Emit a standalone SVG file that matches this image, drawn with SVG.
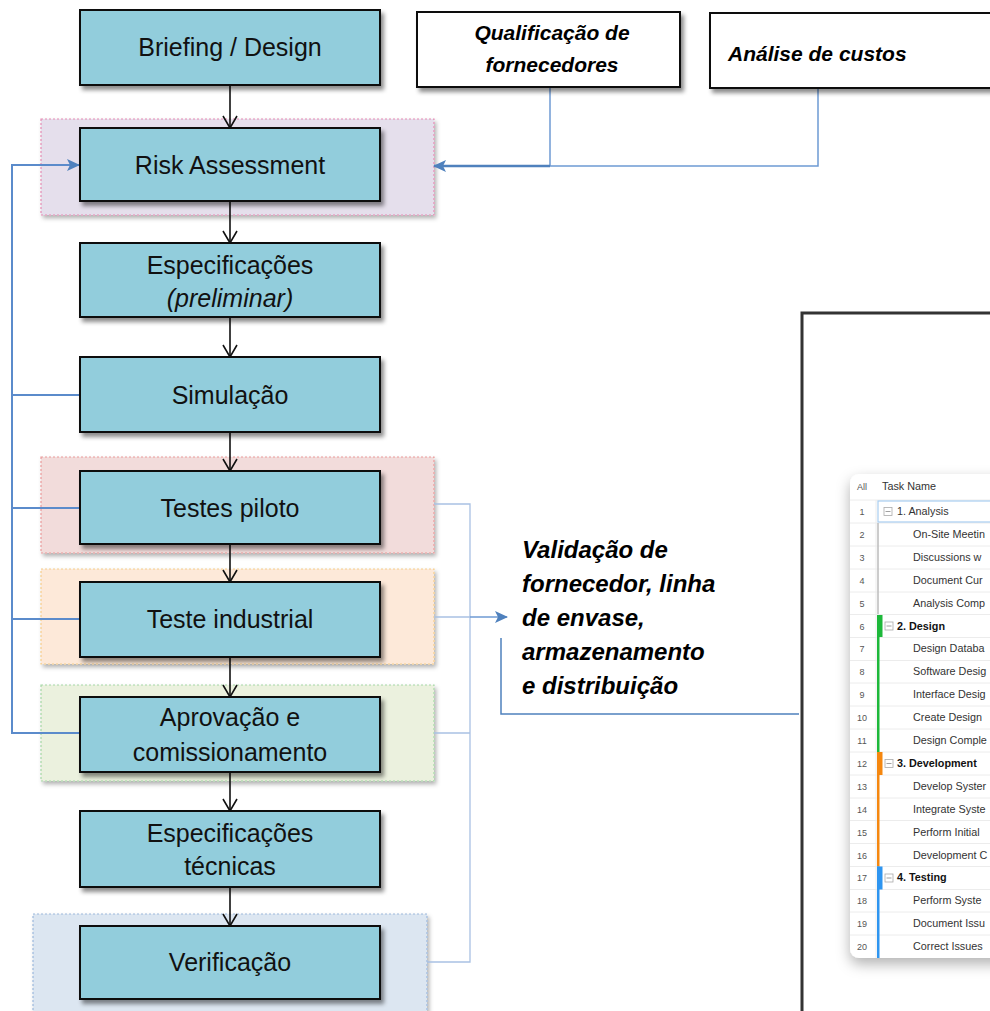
<svg xmlns="http://www.w3.org/2000/svg" width="990" height="1011" viewBox="0 0 990 1011">
<defs>
<filter id="sh" x="-10%" y="-10%" width="130%" height="140%"><feDropShadow dx="3" dy="4" stdDeviation="2" flood-color="#000" flood-opacity="0.45"/></filter>
<filter id="shs" x="-10%" y="-10%" width="130%" height="140%"><feDropShadow dx="2" dy="3" stdDeviation="2" flood-color="#000" flood-opacity="0.3"/></filter>
<filter id="shc" x="-30%" y="-10%" width="160%" height="130%"><feDropShadow dx="0" dy="6" stdDeviation="7" flood-color="#000" flood-opacity="0.3"/></filter>
<marker id="vopen" markerWidth="16" markerHeight="14" refX="8" refY="13" orient="0" markerUnits="userSpaceOnUse" viewBox="0 0 16 14"><path d="M1,1 L8,13 L15,1" fill="none" stroke="#111" stroke-width="1.6"/></marker>
<marker id="blue" markerWidth="14" markerHeight="14" refX="12" refY="7" orient="auto" markerUnits="userSpaceOnUse" viewBox="0 0 14 14"><path d="M0,1 L13,7 L0,13 L3,7 Z" fill="#4F81BD"/></marker>
</defs>
<style>
.grp{stroke-width:1.2;stroke-dasharray:2 2}
.box{fill:#92CDDC;stroke:#111;stroke-width:2}
.t{font-family:"Liberation Sans",Arial,sans-serif;font-size:25px;fill:#111;text-anchor:middle}
.lbl{font-family:"Liberation Sans",Arial,sans-serif;font-size:21px;font-weight:bold;font-style:italic;fill:#000}
.val{font-size:24px}
.wbox{fill:#fff;stroke:#111;stroke-width:2}
.flow{stroke:#111;stroke-width:1.6;fill:none}
.fb{stroke:#5B8BCB;stroke-width:2;fill:none}
.lt{stroke:#A9C1E3;stroke-width:1.3;fill:none}
.g{font-family:"Liberation Sans",Arial,sans-serif;font-size:10.8px;fill:#333}
.gb{font-weight:bold;fill:#111}
.gn{font-family:"Liberation Sans",Arial,sans-serif;font-size:9px;fill:#555;text-anchor:middle}
.rl{stroke:#ececec;stroke-width:1}
.mb{fill:#fff;stroke:#aaa;stroke-width:0.8}
.mm{stroke:#888;stroke-width:0.8}
</style>

<!-- group backgrounds -->
<rect x="41" y="119" width="393" height="96" class="grp" fill="#E5DFEC" stroke="#E58CB4" filter="url(#shs)"/>
<rect x="41" y="457" width="393" height="96" class="grp" fill="#F2DCDB" stroke="#E99A9A" filter="url(#shs)"/>
<rect x="41" y="569" width="393" height="95" class="grp" fill="#FDE9D9" stroke="#F5CE8C" filter="url(#shs)"/>
<rect x="41" y="685" width="393" height="96" class="grp" fill="#EBF1DE" stroke="#A6D8A6" filter="url(#shs)"/>
<rect x="33" y="914" width="394" height="110" class="grp" fill="#DCE6F1" stroke="#9CB8DC" filter="url(#shs)"/>

<!-- big screenshot frame -->
<g id="screenshot">
<rect x="802" y="313" width="200" height="710" fill="#fff" stroke="#333" stroke-width="3"/>
<rect x="850" y="474" width="170" height="484" rx="9" fill="#fff" filter="url(#shc)"/>
<text x="862" y="490" class="gn">All</text>
<text x="882" y="490" class="g" font-size="9.5px">Task Name</text>
<line x1="850" y1="500" x2="1000" y2="500" class="rl"/>
<line x1="876" y1="500" x2="876" y2="958" class="rl"/>
<g id="rows">
<line x1="850" y1="523" x2="1000" y2="523" class="rl"/><line x1="850" y1="546" x2="1000" y2="546" class="rl"/>
<line x1="850" y1="569" x2="1000" y2="569" class="rl"/><line x1="850" y1="592" x2="1000" y2="592" class="rl"/>
<line x1="850" y1="614.5" x2="1000" y2="614.5" class="rl"/><line x1="850" y1="637.5" x2="1000" y2="637.5" class="rl"/>
<line x1="850" y1="660.5" x2="1000" y2="660.5" class="rl"/><line x1="850" y1="683" x2="1000" y2="683" class="rl"/>
<line x1="850" y1="706" x2="1000" y2="706" class="rl"/><line x1="850" y1="729" x2="1000" y2="729" class="rl"/>
<line x1="850" y1="752" x2="1000" y2="752" class="rl"/><line x1="850" y1="775" x2="1000" y2="775" class="rl"/>
<line x1="850" y1="798" x2="1000" y2="798" class="rl"/><line x1="850" y1="820.5" x2="1000" y2="820.5" class="rl"/>
<line x1="850" y1="843.5" x2="1000" y2="843.5" class="rl"/><line x1="850" y1="866.5" x2="1000" y2="866.5" class="rl"/>
<line x1="850" y1="889.5" x2="1000" y2="889.5" class="rl"/><line x1="850" y1="912" x2="1000" y2="912" class="rl"/>
<line x1="850" y1="935" x2="1000" y2="935" class="rl"/>
</g>
<rect x="878" y="501" width="130" height="21" fill="none" stroke="#A8CDF0" stroke-width="1.2"/>
<line x1="878" y1="523" x2="878" y2="614" stroke="#bbb" stroke-width="1.5"/>
<rect x="877" y="615" width="5.5" height="22" fill="#1DB83A"/><rect x="877" y="615" width="2.5" height="137" fill="#1DB83A"/>
<rect x="877" y="752" width="5.5" height="23" fill="#F5870F"/><rect x="877" y="752" width="2.5" height="114.5" fill="#F5870F"/>
<rect x="877" y="866.5" width="5.5" height="23" fill="#2E95F0"/><rect x="877" y="866.5" width="2.5" height="91.5" fill="#2E95F0"/>
<rect x="884" y="507.5" width="8" height="8" class="mb"/><line x1="885.5" y1="511.5" x2="890.5" y2="511.5" class="mm"/>
<rect x="885" y="622" width="8" height="8" class="mb"/><line x1="886.5" y1="626" x2="891.5" y2="626" class="mm"/>
<rect x="885" y="759.5" width="8" height="8" class="mb"/><line x1="886.5" y1="763.5" x2="891.5" y2="763.5" class="mm"/>
<rect x="885" y="874" width="8" height="8" class="mb"/><line x1="886.5" y1="878" x2="891.5" y2="878" class="mm"/>
<g id="nums">
<text x="862" y="515" class="gn">1</text><text x="862" y="538" class="gn">2</text><text x="862" y="561" class="gn">3</text>
<text x="862" y="584" class="gn">4</text><text x="862" y="606.5" class="gn">5</text><text x="862" y="629.5" class="gn">6</text>
<text x="862" y="652" class="gn">7</text><text x="862" y="675" class="gn">8</text><text x="862" y="698" class="gn">9</text>
<text x="862" y="721" class="gn">10</text><text x="862" y="744" class="gn">11</text><text x="862" y="767" class="gn">12</text>
<text x="862" y="790" class="gn">13</text><text x="862" y="813" class="gn">14</text><text x="862" y="835.5" class="gn">15</text>
<text x="862" y="858.5" class="gn">16</text><text x="862" y="881" class="gn">17</text><text x="862" y="904" class="gn">18</text>
<text x="862" y="927" class="gn">19</text><text x="862" y="950" class="gn">20</text>
</g>
<g id="tasks">
<text x="897" y="515" class="g">1. Analysis</text>
<text x="913" y="538" class="g">On-Site Meetin</text>
<text x="913" y="561" class="g">Discussions w</text>
<text x="913" y="584" class="g">Document Cur</text>
<text x="913" y="606.5" class="g">Analysis Comp</text>
<text x="897" y="629.5" class="g gb">2. Design</text>
<text x="913" y="652" class="g">Design Databa</text>
<text x="913" y="675" class="g">Software Desig</text>
<text x="913" y="698" class="g">Interface Desig</text>
<text x="913" y="721" class="g">Create Design</text>
<text x="913" y="744" class="g">Design Comple</text>
<text x="897" y="767" class="g gb">3. Development</text>
<text x="913" y="790" class="g">Develop Syster</text>
<text x="913" y="813" class="g">Integrate Syste</text>
<text x="913" y="835.5" class="g">Perform Initial</text>
<text x="913" y="858.5" class="g">Development C</text>
<text x="897" y="881" class="g gb">4. Testing</text>
<text x="913" y="904" class="g">Perform Syste</text>
<text x="913" y="927" class="g">Document Issu</text>
<text x="913" y="950" class="g">Correct Issues</text>
</g>
</g>

<!-- connectors -->
<g id="connectors">
<line x1="230" y1="85" x2="230" y2="128" class="flow" marker-end="url(#vopen)"/>
<line x1="230" y1="201" x2="230" y2="243" class="flow" marker-end="url(#vopen)"/>
<line x1="230" y1="317" x2="230" y2="357" class="flow" marker-end="url(#vopen)"/>
<line x1="230" y1="432" x2="230" y2="471" class="flow" marker-end="url(#vopen)"/>
<line x1="230" y1="544" x2="230" y2="582" class="flow" marker-end="url(#vopen)"/>
<line x1="230" y1="657" x2="230" y2="697" class="flow" marker-end="url(#vopen)"/>
<line x1="230" y1="772" x2="230" y2="811" class="flow" marker-end="url(#vopen)"/>
<line x1="230" y1="887" x2="230" y2="926" class="flow" marker-end="url(#vopen)"/>
<!-- left feedback -->
<polyline points="80,733 12,733 12,165 79,165" class="fb" marker-end="url(#blue)"/>
<line x1="12" y1="395" x2="80" y2="395" class="fb" stroke-width="1.5"/>
<line x1="12" y1="508" x2="80" y2="508" class="fb" stroke-width="1.5"/>
<line x1="12" y1="619" x2="80" y2="619" class="fb" stroke-width="1.5"/>
<!-- top inputs -->
<polyline points="818,88 818,166 550,166" stroke="#6E9AD3" stroke-width="1.5" fill="none"/>
<line x1="550" y1="87" x2="550" y2="166" stroke="#6E9AD3" stroke-width="1.5"/>
<line x1="550" y1="166" x2="434" y2="166" stroke="#4F81BD" stroke-width="2.5" marker-end="url(#blue)"/>
<!-- right side -->
<polyline points="434,504 470,504 470,962 427,962" class="lt"/>
<line x1="434" y1="733" x2="470" y2="733" class="lt"/>
<line x1="434" y1="617" x2="470" y2="617" class="lt"/>
<line x1="470" y1="617" x2="507" y2="617" stroke="#6E9AD3" stroke-width="1.5" marker-end="url(#blue)"/>
<polyline points="501,638 501,714 799,714" stroke="#4F81BD" stroke-width="1.5" fill="none"/>
</g>

<!-- nodes -->
<g id="briefing"><rect x="80" y="10" width="300" height="75" class="box" filter="url(#sh)"/><text x="230" y="56" class="t">Briefing / Design</text></g>
<g id="risk"><rect x="80" y="128" width="300" height="73" class="box" filter="url(#sh)"/><text x="230" y="174" class="t">Risk Assessment</text></g>
<g id="espec-prelim"><rect x="80" y="243" width="300" height="74" class="box" filter="url(#sh)"/><text x="230" y="274" class="t">Especificações</text><text x="230" y="307" class="t" font-style="italic">(preliminar)</text></g>
<g id="simulacao"><rect x="80" y="357" width="300" height="75" class="box" filter="url(#sh)"/><text x="230" y="404" class="t">Simulação</text></g>
<g id="testes-piloto"><rect x="80" y="471" width="300" height="73" class="box" filter="url(#sh)"/><text x="230" y="517" class="t">Testes piloto</text></g>
<g id="teste-industrial"><rect x="80" y="582" width="300" height="75" class="box" filter="url(#sh)"/><text x="230" y="628" class="t">Teste industrial</text></g>
<g id="aprovacao"><rect x="80" y="697" width="300" height="75" class="box" filter="url(#sh)"/><text x="230" y="726" class="t">Aprovação e</text><text x="230" y="761" class="t">comissionamento</text></g>
<g id="espec-tec"><rect x="80" y="811" width="300" height="76" class="box" filter="url(#sh)"/><text x="230" y="842" class="t">Especificações</text><text x="230" y="875" class="t">técnicas</text></g>
<g id="verificacao"><rect x="80" y="926" width="300" height="73" class="box" filter="url(#sh)"/><text x="230" y="971" class="t">Verificação</text></g>

<g id="qualificacao"><rect x="417" y="12" width="263" height="75" class="wbox" filter="url(#sh)"/><text x="552" y="40" class="lbl" text-anchor="middle">Qualificação de</text><text x="552" y="72" class="lbl" text-anchor="middle">fornecedores</text></g>
<g id="analise"><rect x="710" y="13" width="300" height="75" class="wbox" filter="url(#sh)"/><text x="728" y="61" class="lbl">Análise de custos</text></g>

<g id="validacao">
<text x="522" y="558" class="lbl val">Validação de</text>
<text x="522" y="592" class="lbl val">fornecedor, linha</text>
<text x="522" y="626" class="lbl val">de envase,</text>
<text x="522" y="660" class="lbl val">armazenamento</text>
<text x="522" y="694" class="lbl val">e distribuição</text>
</g>
</svg>
